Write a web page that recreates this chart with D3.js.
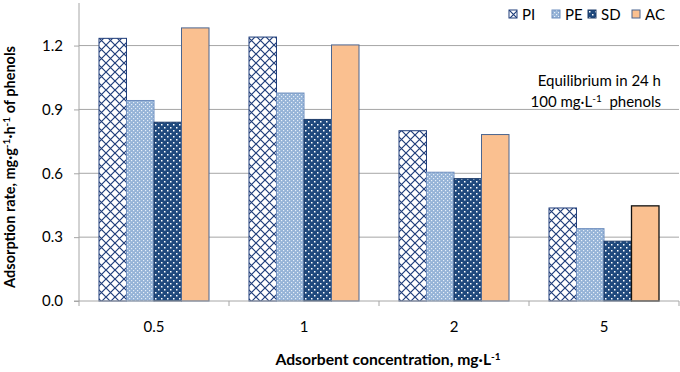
<!DOCTYPE html>
<html>
<head>
<meta charset="utf-8">
<script src="https://cdn.jsdelivr.net/npm/d3@7"></script>
<style>
  body { margin: 0; background: #fff; }
  text { font-family: Lato, "Open Sans", sans-serif; fill: #000; }
</style>
</head>
<body>
<div id="chart"></div>
<script>
// Data
const categories = ['0.5', '1', '2', '5'];
const seriesNames = ['PI', 'PE', 'SD', 'AC'];
const valuesPI = [1.234, 1.24, 0.80, 0.437];
const valuesPE = [0.942, 0.977, 0.605, 0.34];
const valuesSD = [0.84, 0.853, 0.575, 0.281];
const valuesAC = [1.283, 1.203, 0.782, 0.447];
const yTicks = [0, 0.3, 0.6, 0.9, 1.2];

const seriesValues = { PI: valuesPI, PE: valuesPE, SD: valuesSD, AC: valuesAC };
const dataset = categories.map((c, i) => ({
    category: c,
    values: seriesNames.map(s => ({ series: s, value: seriesValues[s][i], last: i === categories.length - 1 }))
}));

// Dimensions
const dimensions = { width: 680, height: 372, left: 79, right: 679, top: 3, bottom: 301 };
const fontSize = 15;

const xScale = d3.scaleBand()
    .domain(categories)
    .range([dimensions.left, dimensions.right])
    .paddingInner(0)
    .paddingOuter(0);

const x1Scale = d3.scaleBand()
    .domain(seriesNames)
    .range([20, 130])
    .padding(0);

const yScale = d3.scaleLinear()
    .domain([0, 1.4])
    .range([dimensions.bottom, dimensions.top]);

const svg = d3.select('#chart')
    .append('svg')
    .attr('width', dimensions.width)
    .attr('height', dimensions.height);

// Patterns
const defs = svg.append('defs');
const pi = defs.append('pattern').attr('id', 'pat-PI')
    .attr('patternUnits', 'userSpaceOnUse').attr('width', 9).attr('height', 9);
pi.append('rect').attr('width', 9).attr('height', 9).attr('fill', '#fff');
pi.append('path').attr('d', 'M0,0L9,9M9,0L0,9').attr('stroke', '#1f3d7a').attr('stroke-width', 1.2);

const pe = defs.append('pattern').attr('id', 'pat-PE')
    .attr('patternUnits', 'userSpaceOnUse').attr('width', 4).attr('height', 4);
pe.append('rect').attr('width', 4).attr('height', 4).attr('fill', '#95b3d7');
pe.append('rect').attr('x', 0).attr('y', 0).attr('width', 1.2).attr('height', 1.2).attr('fill', '#e6eef8');
pe.append('rect').attr('x', 2).attr('y', 2).attr('width', 1.2).attr('height', 1.2).attr('fill', '#e6eef8');

const sd = defs.append('pattern').attr('id', 'pat-SD')
    .attr('patternUnits', 'userSpaceOnUse').attr('width', 6).attr('height', 6);
sd.append('rect').attr('width', 6).attr('height', 6).attr('fill', '#1f497d');
sd.append('rect').attr('x', 1).attr('y', 1).attr('width', 1.5).attr('height', 1.5).attr('fill', '#fff');
sd.append('rect').attr('x', 4).attr('y', 4).attr('width', 1.5).attr('height', 1.5).attr('fill', '#fff');

const fills = { PI: 'url(#pat-PI)', PE: 'url(#pat-PE)', SD: 'url(#pat-SD)', AC: '#fac090' };
const strokes = { PI: '#1f3d7a', PE: '#6f8fbf', SD: '#1f3d6a', AC: '#4a6590' };

// Gridlines
svg.append('g')
    .selectAll('line')
    .data(yTicks.filter(d => d > 0))
    .join('line')
    .attr('x1', dimensions.left)
    .attr('x2', dimensions.right)
    .attr('y1', d => yScale(d))
    .attr('y2', d => yScale(d))
    .attr('stroke', '#a6a6a6')
    .attr('stroke-width', 1);

// Bars
const groups = svg.append('g')
    .selectAll('g')
    .data(dataset)
    .join('g')
    .attr('transform', d => `translate(${xScale(d.category)},0)`);

groups.selectAll('rect')
    .data(d => d.values)
    .join('rect')
    .attr('x', d => x1Scale(d.series))
    .attr('y', d => yScale(d.value))
    .attr('width', x1Scale.bandwidth())
    .attr('height', d => yScale(0) - yScale(d.value))
    .attr('fill', d => fills[d.series])
    .attr('stroke', d => (d.series === 'AC' && d.last) ? '#111' : strokes[d.series])
    .attr('stroke-width', d => (d.series === 'AC' && d.last) ? 1.3 : 1);

// Axes
const yAxis = d3.axisLeft(yScale)
    .tickValues(yTicks)
    .tickSize(5)
    .tickPadding(11)
    .tickFormat(d3.format('.1f'));

const yAxisGroup = svg.append('g')
    .attr('transform', `translate(${dimensions.left},0)`)
    .call(yAxis);
yAxisGroup.select('.domain').attr('stroke', '#a6a6a6').attr('d', `M0,${dimensions.top}V${dimensions.bottom}`);
yAxisGroup.selectAll('.tick line').attr('stroke', '#a6a6a6');
yAxisGroup.selectAll('.tick text').attr('font-size', fontSize).attr('font-family', 'Lato, sans-serif').attr('fill', '#000');

const xAxis = d3.axisBottom(xScale)
    .tickSize(0)
    .tickPadding(20);

const xAxisGroup = svg.append('g')
    .attr('transform', `translate(0,${dimensions.bottom})`)
    .call(xAxis);
xAxisGroup.select('.domain').attr('stroke', '#a6a6a6').attr('d', `M${dimensions.left - 5},0H${dimensions.right}`);
xAxisGroup.selectAll('.tick text').attr('font-size', fontSize).attr('font-family', 'Lato, sans-serif').attr('fill', '#000');

// category boundary ticks
xAxisGroup.append('g')
    .selectAll('line')
    .data(categories)
    .join('line')
    .attr('x1', d => xScale(d) + xScale.bandwidth())
    .attr('x2', d => xScale(d) + xScale.bandwidth())
    .attr('y1', 0)
    .attr('y2', 5)
    .attr('stroke', '#a6a6a6');
xAxisGroup.append('line')
    .attr('x1', dimensions.left).attr('x2', dimensions.left)
    .attr('y1', 0).attr('y2', 5).attr('stroke', '#a6a6a6');

// Axis titles
const yTitle = svg.append('text')
    .attr('transform', 'translate(15,167) rotate(-90)')
    .attr('text-anchor', 'middle')
    .attr('font-size', 14.5)
    .attr('font-weight', 'bold');
yTitle.append('tspan').text('Adsorption rate, mg·g');
yTitle.append('tspan').attr('font-size', 10).attr('dy', -5).text('-1');
yTitle.append('tspan').attr('dy', 5).text('·h');
yTitle.append('tspan').attr('font-size', 10).attr('dy', -5).text('-1');
yTitle.append('tspan').attr('dy', 5).text(' of phenols');

const xTitle = svg.append('text')
    .attr('x', 388)
    .attr('y', 365)
    .attr('text-anchor', 'middle')
    .attr('font-size', 15.7)
    .attr('font-weight', 'bold');
xTitle.append('tspan').text('Adsorbent concentration, mg·L');
xTitle.append('tspan').attr('font-size', 10).attr('dy', -5).text('-1');

// Annotation
svg.append('text')
    .attr('x', 661).attr('y', 86)
    .attr('text-anchor', 'end')
    .attr('font-size', fontSize)
    .text('Equilibrium in 24 h');
const note2 = svg.append('text')
    .attr('x', 661).attr('y', 107)
    .attr('text-anchor', 'end')
    .attr('font-size', fontSize);
note2.append('tspan').text('100 mg·L');
note2.append('tspan').attr('font-size', 10).attr('dy', -5).text('-1');
note2.append('tspan').attr('dy', 5).text('\u00a0\u00a0phenols');

// Legend
const legendX = [509, 552, 588, 632];
const legend = svg.append('g')
    .selectAll('g')
    .data(seriesNames)
    .join('g')
    .attr('transform', (d, i) => `translate(${legendX[i]},10)`);
legend.append('rect')
    .attr('width', 8)
    .attr('height', 8)
    .attr('fill', d => fills[d])
    .attr('stroke', d => strokes[d]);
legend.append('text')
    .attr('x', 13)
    .attr('y', 9.5)
    .attr('font-size', fontSize)
    .text(d => d);
</script>
</body>
</html>
